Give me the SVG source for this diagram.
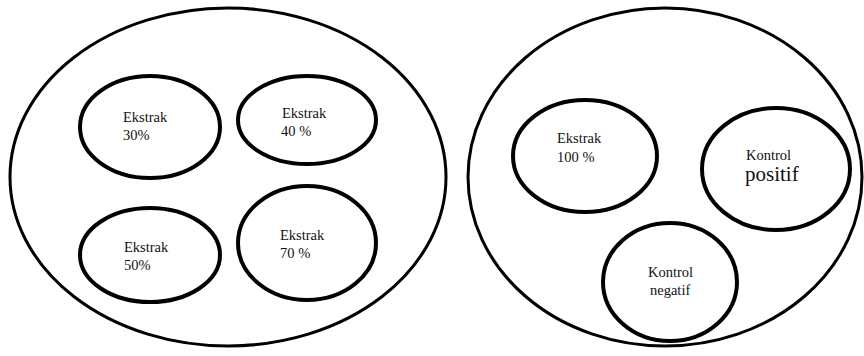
<svg xmlns="http://www.w3.org/2000/svg" width="864" height="356" viewBox="0 0 864 356">
<style>
.big{fill:none;stroke:#000;stroke-width:3}
.sm{fill:none;stroke:#000;stroke-width:4}
text{font-family:"Liberation Serif","Times New Roman",serif;font-size:14.5px;fill:#111}
.lg{font-size:21px}
</style>
<rect width="864" height="356" fill="#fff"/>
<g id="group-left"><ellipse class="big" cx="228" cy="177" rx="218" ry="169"/></g>
<g id="group-right"><ellipse class="big" cx="665" cy="177" rx="197" ry="169"/></g>
<g id="n30"><ellipse class="sm" cx="150" cy="127" rx="70" ry="51"/><text x="123" y="122">Ekstrak</text><text x="123" y="140">30%</text></g>
<g id="n40"><ellipse class="sm" cx="307" cy="120" rx="69" ry="44"/><text x="282" y="118">Ekstrak</text><text x="281" y="136">40 %</text></g>
<g id="n50"><ellipse class="sm" cx="150" cy="255" rx="70" ry="47"/><text x="124" y="252">Ekstrak</text><text x="124" y="270">50%</text></g>
<g id="n70"><ellipse class="sm" cx="307" cy="243" rx="69" ry="57"/><text x="280" y="240">Ekstrak</text><text x="280" y="258">70 %</text></g>
<g id="n100"><ellipse class="sm" cx="585" cy="156" rx="72" ry="56"/><text x="557" y="143">Ekstrak</text><text x="557" y="162">100 %</text></g>
<g id="kpos"><ellipse class="sm" cx="776" cy="169" rx="74" ry="61"/><text x="746" y="160">Kontrol</text><text class="lg" x="745" y="181">positif</text></g>
<g id="kneg"><ellipse class="sm" cx="670" cy="282" rx="67" ry="59"/><text x="648" y="277">Kontrol</text><text x="650" y="295">negatif</text></g>
<g id="connectors"></g>
</svg>
